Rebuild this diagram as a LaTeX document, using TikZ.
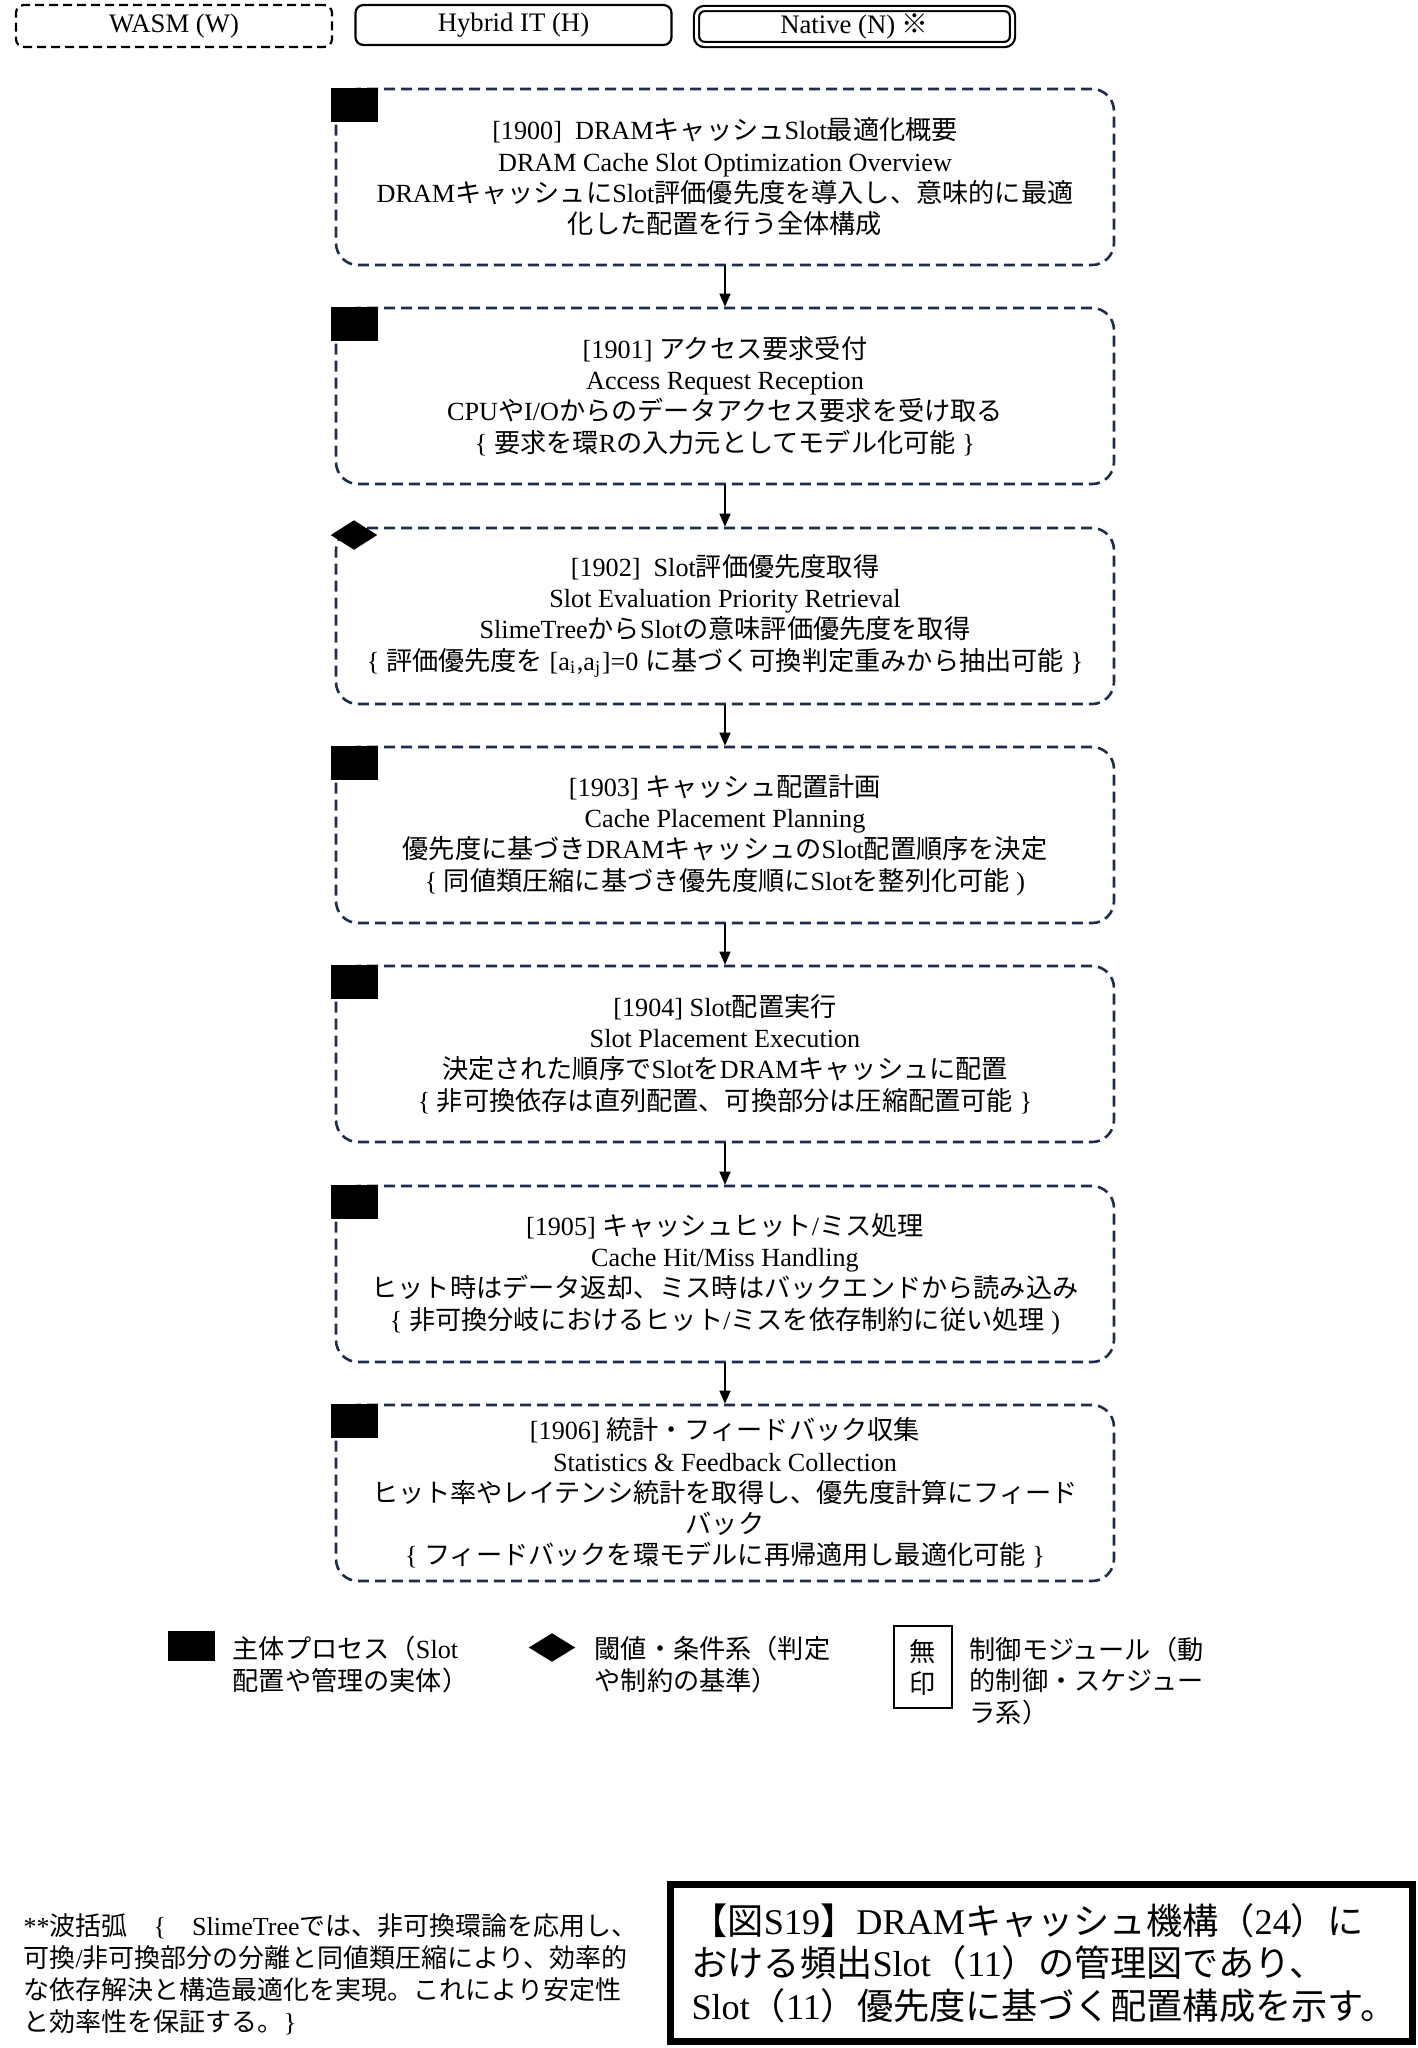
\documentclass[tikz,border=0pt]{standalone}
\usepackage{fontspec}
\setmainfont{Liberation Serif}
\newfontfamily\jpfont{Noto Sans CJK JP}
\usetikzlibrary{arrows.meta,shapes.geometric}

% Japanese characters switch to the CJK font by themselves
\XeTeXinterchartokenstate=1
\newXeTeXintercharclass\jpclass
\newcount\jpcode
\jpcode="3000
\loop \XeTeXcharclass\jpcode=\jpclass \ifnum\jpcode<"30FF \advance\jpcode by 1 \repeat
\jpcode="4E00
\loop \XeTeXcharclass\jpcode=\jpclass \ifnum\jpcode<"9FFF \advance\jpcode by 1 \repeat
\jpcode="FF00
\loop \XeTeXcharclass\jpcode=\jpclass \ifnum\jpcode<"FFEF \advance\jpcode by 1 \repeat
\XeTeXcharclass"203B=\jpclass
\XeTeXinterchartoks 0 \jpclass = {\jpfont}
\XeTeXinterchartoks 4095 \jpclass = {\jpfont}
\XeTeXinterchartoks \jpclass 0 = {\rmfamily}
\XeTeXinterchartoks \jpclass 4095 = {\rmfamily}

\definecolor{navy}{RGB}{31,45,77}

\tikzset{
  stepbox/.style={draw=navy, dash pattern=on 1.1mm off 0.6mm, line width=0.26mm,
    rounded corners=2.2mm, minimum width=7.78cm, minimum height=1.76cm,
    align=center, inner sep=0pt, font=\fontsize{7.45}{8.9}\selectfont},
  mainmark/.style={fill=black, minimum width=0.47cm, minimum height=0.34cm, inner sep=0pt},
  condmark/.style={diamond, fill=black, minimum width=0.47cm, minimum height=0.30cm, inner sep=0pt},
  flow/.style={-{Triangle[length=1.3mm,width=1.1mm]}, line width=0.15mm},
  modebox/.style={line width=0.22mm, rounded corners=0.8mm, minimum width=3.16cm,
    inner sep=0pt, font=\fontsize{7.6}{8.8}\selectfont},
  legtext/.style={align=left, inner sep=0pt, font=\fontsize{7.45}{8.9}\selectfont}
}

\begin{document}
\begin{tikzpicture}[x=1cm,y=-1cm]

  \useasboundingbox (0,0) rectangle (14.18,20.48);

  % execution modes
  \node[modebox, draw, dash pattern=on 0.9mm off 0.5mm, minimum height=0.42cm] (wasm) at (1.74,0.26) {WASM (W)};

  \node[modebox, draw, minimum height=0.40cm] (hybrid) at (5.135,0.25) {Hybrid IT (H)};

  \node[modebox, draw, double, double distance=0.3mm, minimum height=0.36cm] (native) at (8.545,0.265) {Native (N) ※};


  % process steps
  \node[stepbox] (s1900) at (7.25,1.77) {[1900]\ \ DRAMキャッシュSlot最適化概要\\DRAM Cache Slot Optimization Overview\\DRAMキャッシュにSlot評価優先度を導入し、意味的に最適\\化した配置を行う全体構成};
  \node[mainmark, anchor=north west] (m1900) at (3.30,0.87) {};

  \node[stepbox] (s1901) at (7.25,3.96) {[1901] アクセス要求受付\\Access Request Reception\\CPUやI/Oからのデータアクセス要求を受け取る\\\{ 要求を環Rの入力元としてモデル化可能 \}};
  \node[mainmark, anchor=north west] (m1901) at (3.30,3.06) {};

  \node[stepbox] (s1902) at (7.25,6.16) {[1902]\ \ Slot評価優先度取得\\Slot Evaluation Priority Retrieval\\SlimeTreeからSlotの意味評価優先度を取得\\\{ 評価優先度を [a\textsubscript{i},a\textsubscript{j}]=0 に基づく可換判定重みから抽出可能 \}};
  \node[condmark] (m1902) at (3.54,5.35) {};

  \node[stepbox] (s1903) at (7.25,8.35) {[1903] キャッシュ配置計画\\Cache Placement Planning\\優先度に基づきDRAMキャッシュのSlot配置順序を決定\\\{ 同値類圧縮に基づき優先度順にSlotを整列化可能 )};
  \node[mainmark, anchor=north west] (m1903) at (3.30,7.45) {};

  \node[stepbox] (s1904) at (7.25,10.54) {[1904] Slot配置実行\\Slot Placement Execution\\決定された順序でSlotをDRAMキャッシュに配置\\\{ 非可換依存は直列配置、可換部分は圧縮配置可能 \}};
  \node[mainmark, anchor=north west] (m1904) at (3.30,9.64) {};

  \node[stepbox] (s1905) at (7.25,12.74) {[1905] キャッシュヒット/ミス処理\\Cache Hit/Miss Handling\\ヒット時はデータ返却、ミス時はバックエンドから読み込み\\\{ 非可換分岐におけるヒット/ミスを依存制約に従い処理 )};
  \node[mainmark, anchor=north west] (m1905) at (3.30,11.84) {};

  \node[stepbox] (s1906) at (7.25,14.93) {[1906] 統計・フィードバック収集\\Statistics \& Feedback Collection\\ヒット率やレイテンシ統計を取得し、優先度計算にフィード\\バック\\\{ フィードバックを環モデルに再帰適用し最適化可能 \}};
  \node[mainmark, anchor=north west] (m1906) at (3.30,14.03) {};


  \draw[flow] (s1900) -- (s1901);
  \draw[flow] (s1901) -- (s1902);
  \draw[flow] (s1902) -- (s1903);
  \draw[flow] (s1903) -- (s1904);
  \draw[flow] (s1904) -- (s1905);
  \draw[flow] (s1905) -- (s1906);


  % legend
  \node[mainmark, minimum height=0.30cm] (lmain) at (1.915,16.46) {};
  \node[legtext, anchor=west] (tmain) at (2.32,16.645) {主体プロセス（Slot\\配置や管理の実体）};

  \node[condmark, minimum height=0.29cm] (lcond) at (5.52,16.475) {};
  \node[legtext, anchor=west] (tcond) at (5.94,16.645) {閾値・条件系（判定\\や制約の基準）};

  \node[draw, line width=0.15mm, minimum width=0.58cm, minimum height=0.82cm, align=center, inner sep=0pt, font=\fontsize{7.45}{9.1}\selectfont] (lctrl) at (9.23,16.67) {無\\印};
  \node[legtext, anchor=west] (tctrl) at (9.69,16.81) {制御モジュール（動\\的制御・スケジュー\\ラ系）};


  % notes
  \node[legtext, anchor=west, font=\fontsize{7.4}{9.1}\selectfont] (note) at (0.23,19.74) {**波括弧　\{　SlimeTreeでは、非可換環論を応用し、\\可換/非可換部分の分離と同値類圧縮により、効率的\\な依存解決と構造最適化を実現。これにより安定性\\と効率性を保証する。\}};

  \node[draw, line width=0.7mm, minimum height=1.57cm, text width=7.0cm, inner xsep=0.21cm, inner ysep=0pt, align=left, font=\fontsize{10.3}{12.1}\selectfont] (caption) at (10.415,19.63) {【図S19】DRAMキャッシュ機構（24）に\\おける頻出Slot（11）の管理図であり、\\Slot（11）優先度に基づく配置構成を示す。};

\end{tikzpicture}
\end{document}
